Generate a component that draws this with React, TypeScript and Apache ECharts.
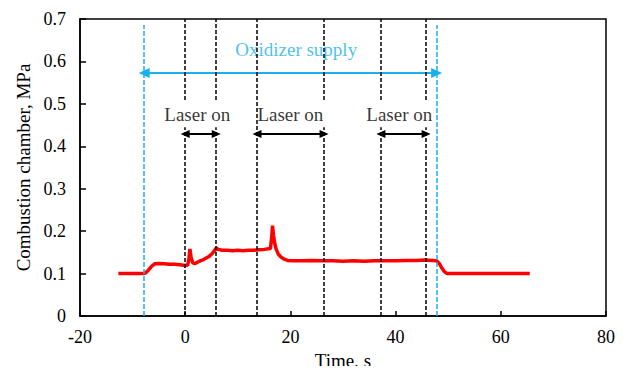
import React, { useEffect, useRef } from 'react';
import * as echarts from 'echarts';

// Measured chamber pressure trace
const timeS: number[] = [
  -12.7, -10, -8, -7.6, -7.0, -6.4, -5.8, -5, -4, -3, -2, -1, 0, 0.5, 0.7, 0.9, 1.1, 1.4, 1.8,
  2.5, 3.5, 4.5, 5.2, 5.9, 6.3, 7, 8, 9, 10, 11, 12, 13, 14, 15, 16.2, 16.45, 16.6, 16.8, 17.0,
  17.3, 17.7, 18.2, 18.8, 19.5, 20.5, 22, 24, 26, 28, 30, 32, 34, 36, 38, 40, 42, 44, 45.5, 47,
  47.8, 48.3, 48.8, 49.3, 49.8, 52, 55, 58, 61, 63, 65.5,
];
const pressureMPa: number[] = [
  0.100, 0.100, 0.100, 0.101, 0.108, 0.117, 0.123, 0.124, 0.123, 0.122, 0.122, 0.121, 0.119, 0.120,
  0.135, 0.158, 0.140, 0.126, 0.123, 0.128, 0.133, 0.140, 0.148, 0.160, 0.157, 0.155, 0.155, 0.154,
  0.155, 0.154, 0.155, 0.155, 0.156, 0.157, 0.159, 0.185, 0.213, 0.190, 0.172, 0.157, 0.146, 0.139,
  0.134, 0.131, 0.130, 0.130, 0.131, 0.130, 0.130, 0.129, 0.130, 0.129, 0.130, 0.130, 0.130, 0.131,
  0.131, 0.132, 0.131, 0.130, 0.124, 0.113, 0.104, 0.100, 0.100, 0.100, 0.100, 0.100, 0.100, 0.100,
];

// Event markers (s)
const laserEdges: number[] = [0, 5.9, 13.65, 26.4, 37.2, 45.8];
const oxidizerEdges: number[] = [-7.8, 47.8];
const laserLabelX: number[] = [2.3, 20.0, 40.7];
const laserLabelText = 'Laser on';
const oxidizerLabelText = 'Oxidizer supply';
const oxidizerLabelX = 21.1;

// Annotation heights (MPa)
const laserArrowY = 0.429;
const laserLabelY = 0.474;
const gapBottomY = 0.445;
const gapTopY = 0.509;
const oxidizerArrowY = 0.573;
const oxidizerLabelY = 0.627;
const oxidizerLineTop = 0.686;

const xMin = -20, xMax = 80, xStep = 20;
const yMin = 0, yMax = 0.7, yStep = 0.1;

const FONT = "'Liberation Serif', 'Times New Roman', serif";
const CYAN = '#1ab0ee';

export default function App() {
  const ref = useRef<HTMLDivElement>(null);

  useEffect(() => {
    if (!ref.current) return;
    const chart = echarts.init(ref.current, null, { renderer: 'svg' });

    const traceData = timeS.map((t, i) => [t, pressureMPa[i]]);

    const blackLines: any[] = [];
    laserEdges.forEach((x, i) => {
      if (i === 2) {
        blackLines.push([{ coord: [x, 0] }, { coord: [x, yMax] }]);
      } else {
        blackLines.push([{ coord: [x, 0] }, { coord: [x, gapBottomY] }]);
        blackLines.push([{ coord: [x, gapTopY] }, { coord: [x, yMax] }]);
      }
    });
    const arrowPt = (x: number, y: number) => ({
      coord: [x, y],
      symbol: 'triangle',
      symbolSize: [8, 9],
    });
    const blackArrows: any[] = [];
    for (let i = 0; i < laserEdges.length; i += 2) {
      blackArrows.push([arrowPt(laserEdges[i], laserArrowY), arrowPt(laserEdges[i + 1], laserArrowY)]);
    }

    const cyanLines: any[] = oxidizerEdges.map((x) => [
      { coord: [x, 0] },
      { coord: [x, oxidizerLineTop] },
    ]);
    const cyanArrow: any[] = [
      [
        { coord: [oxidizerEdges[0], oxidizerArrowY], symbol: 'triangle', symbolSize: [10, 11] },
        { coord: [oxidizerEdges[1], oxidizerArrowY], symbol: 'triangle', symbolSize: [10, 11] },
      ],
    ];

    chart.setOption({
      animation: false,
      grid: {
        left: 80,
        top: 19,
        right: 22,
        bottom: 58,
        outerBoundsMode: 'none',
        containLabel: false,
        show: true,
        borderColor: '#000',
        borderWidth: 1.5,
        backgroundColor: 'transparent',
      },
      xAxis: {
        type: 'value',
        min: xMin,
        max: xMax,
        interval: xStep,
        name: 'Time, s',
        nameLocation: 'middle',
        nameGap: 33,
        nameTextStyle: { fontFamily: FONT, fontSize: 19, color: '#000' },
        axisLine: { show: true, onZero: false, lineStyle: { color: '#000', width: 1.5 } },
        axisTick: { show: true, inside: true, length: 5, lineStyle: { color: '#000', width: 1.5 } },
        axisLabel: { fontFamily: FONT, fontSize: 18, color: '#000', margin: 12 },
        splitLine: { show: false },
      },
      yAxis: {
        type: 'value',
        min: yMin,
        max: yMax,
        interval: yStep,
        name: 'Combustion chamber, MPa',
        nameLocation: 'middle',
        nameGap: 47,
        nameTextStyle: { fontFamily: FONT, fontSize: 19, color: '#000' },
        axisLine: { show: true, onZero: false, lineStyle: { color: '#000', width: 1.5 } },
        axisTick: { show: true, inside: true, length: 6, lineStyle: { color: '#000', width: 1.5 } },
        axisLabel: { fontFamily: FONT, fontSize: 18, color: '#000', margin: 14 },
        splitLine: { show: false },
      },
      series: [
        {
          type: 'line',
          data: [],
          silent: true,
          markLine: {
            silent: true,
            symbol: ['none', 'none'],
            label: { show: false },
            lineStyle: { color: CYAN, type: [5, 2], width: 1.5 },
            data: cyanLines,
          },
        },
        {
          type: 'line',
          data: [],
          silent: true,
          markLine: {
            silent: true,
            symbol: ['none', 'none'],
            label: { show: false },
            lineStyle: { color: CYAN, type: 'solid', width: 2 },
            data: cyanArrow,
          },
        },
        {
          type: 'line',
          data: traceData,
          showSymbol: false,
          symbol: 'none',
          lineStyle: { color: '#ff0000', width: 3.5 },
          itemStyle: { color: '#ff0000' },
          z: 3,
        },
        {
          type: 'line',
          data: [],
          silent: true,
          z: 4,
          markLine: {
            silent: true,
            symbol: ['none', 'none'],
            label: { show: false },
            lineStyle: { color: '#000', type: [4, 2], width: 1.5 },
            data: blackLines,
          },
        },
        {
          type: 'line',
          data: [],
          silent: true,
          z: 4,
          markLine: {
            silent: true,
            symbol: ['none', 'none'],
            label: { show: false },
            lineStyle: { color: '#000', type: 'solid', width: 2 },
            itemStyle: { color: '#000' },
            data: blackArrows,
          },
        },
        {
          type: 'scatter',
          silent: true,
          symbolSize: 1,
          itemStyle: { color: 'rgba(0,0,0,0)' },
          label: {
            show: true,
            position: 'inside',
            formatter: '{b}',
            fontFamily: FONT,
            fontSize: 19,
            color: '#000',
          },
          data: laserLabelX.map((x) => ({ name: laserLabelText, value: [x, laserLabelY] })),
        },
        {
          type: 'scatter',
          silent: true,
          symbolSize: 1,
          itemStyle: { color: 'rgba(0,0,0,0)' },
          label: {
            show: true,
            position: 'inside',
            formatter: '{b}',
            fontFamily: FONT,
            fontSize: 19,
            color: CYAN,
          },
          data: [{ name: oxidizerLabelText, value: [oxidizerLabelX, oxidizerLabelY] }],
        },
      ],
    });

    return () => chart.dispose();
  }, []);

  return <div ref={ref} style={{ width: 628, height: 374, margin: -8 }} />;
}
